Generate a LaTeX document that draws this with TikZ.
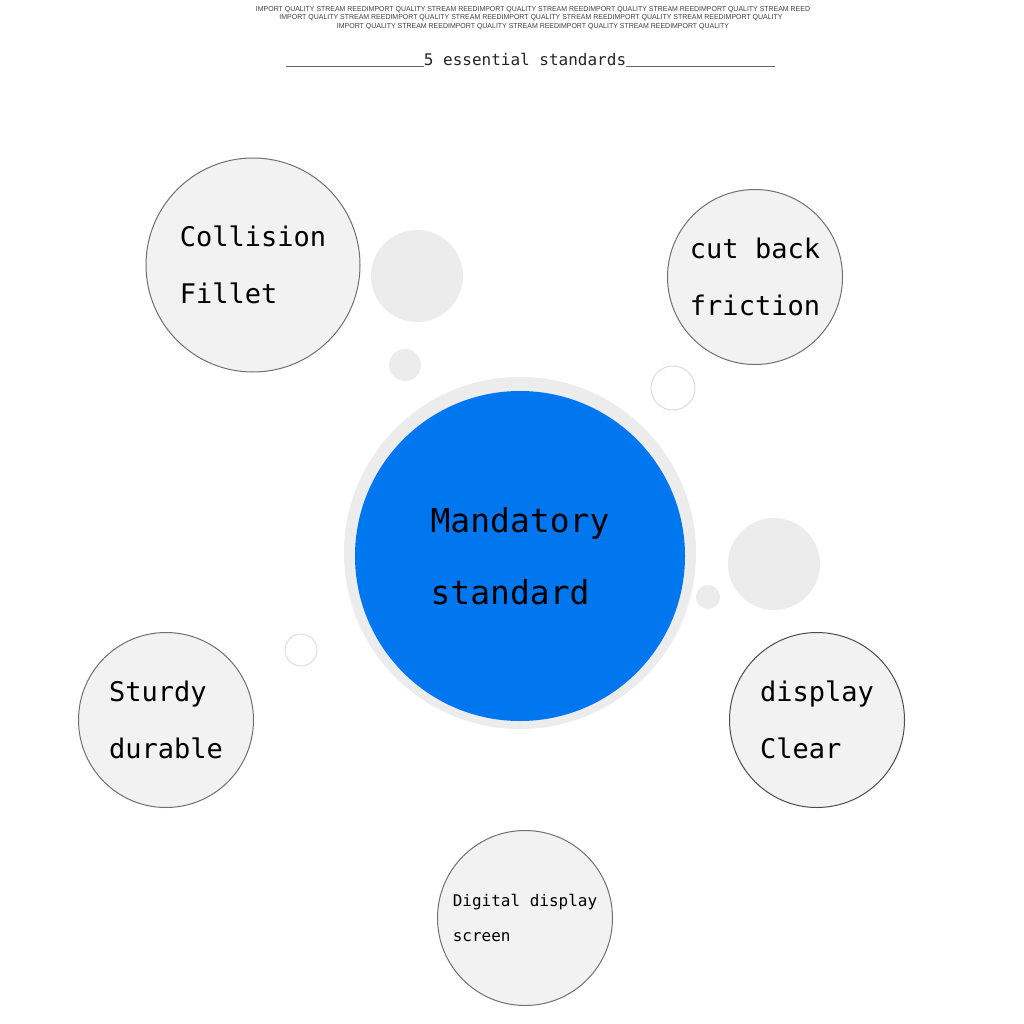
\documentclass[tikz,border=0pt]{standalone}
\usepackage{fontspec}
\usepackage{graphicx}
\usepackage{xcolor}
\setmainfont{DejaVu Sans}
\newfontfamily\monofont{DejaVu Sans Mono}
\newfontfamily\tinyfont{Liberation Sans}
\definecolor{bubblefill}{HTML}{F2F2F2}
\definecolor{bubbleline}{HTML}{707070}
\definecolor{dotfill}{HTML}{ECECEC}
\definecolor{ringline}{HTML}{DDDDDD}
\definecolor{hubblue}{HTML}{0077EE}
\usetikzlibrary{positioning}
\tikzset{
  bubble/.style={draw=bubbleline, line width=1pt, circle, fill=bubblefill,
                 inner sep=0pt, align=left, font=\monofont\fontsize{27}{57}\selectfont},
  dot/.style={circle, fill=dotfill, inner sep=0pt},
  ring/.style={circle, draw=ringline, line width=1pt, fill=white, inner sep=0pt},
  hub/.style={circle, fill=hubblue, inner sep=0pt, align=left,
              font=\monofont\fontsize{33}{72}\selectfont},
  hdr/.style={inner sep=0pt, text=black!75, font=\tinyfont\fontsize{6}{6}\selectfont},
}

\begin{document}
\begin{tikzpicture}[x=1pt, y=-1pt]
  \useasboundingbox[fill=white] (0,0) rectangle (1024,1024);
  % header
  \node[hdr] (hdra) at (533,10) {\resizebox{554pt}{5pt}{IMPORT QUALITY STREAM REEDIMPORT QUALITY STREAM REEDIMPORT QUALITY STREAM REEDIMPORT QUALITY STREAM REEDIMPORT QUALITY STREAM REED}};
  \node[hdr] (hdrb) at (531,18) {\resizebox{503pt}{5pt}{IMPORT QUALITY STREAM REEDIMPORT QUALITY STREAM REEDIMPORT QUALITY STREAM REEDIMPORT QUALITY STREAM REEDIMPORT QUALITY}};
  \node[hdr] (hdrc) at (533,27) {\resizebox{392pt}{5pt}{IMPORT QUALITY STREAM REEDIMPORT QUALITY STREAM REEDIMPORT QUALITY STREAM REEDIMPORT QUALITY}};
  \node[inner sep=0pt, anchor=base, font=\monofont\fontsize{16}{16}\selectfont, text=black!85]
    (title) at (525,66) {5 essential standards};
  \coordinate (lineL) at (286,66);
  \coordinate (lineR) at (775,66);
  \draw[black!60, line width=0.8pt] (lineL) -- (title.base west);
  \draw[black!60, line width=0.8pt] (title.base east) -- (lineR);
  % small decorations
  \node[dot, minimum size=92pt] (dota) at (417,276) {};
  \node[dot, minimum size=32pt] (dotb) at (405,365) {};
  \node[dot, minimum size=92pt] (dotc) at (774,564) {};
  \node[dot, minimum size=24pt] (dotd) at (708,597) {};
  \node[ring, minimum size=44pt] (ringa) at (673,388) {};
  \node[ring, minimum size=32pt] (ringb) at (301,650) {};
  % centre
  \node[dot, minimum size=352pt] (halo) at (520,553) {};
  \node[hub, minimum size=330pt] (mand) at (520,556) {Mandatory\\standard};
  % outer bubbles
  \node[bubble, minimum size=214pt] (fillet) at (253,265) {Collision\\Fillet};
  \node[bubble, minimum size=175pt] (friction) at (755,277) {cut back\\friction};
  \node[bubble, minimum size=175pt] (sturdy) at (166,720) {Sturdy\\durable};
  \node[bubble, draw=black!70, minimum size=175pt] (clear) at (817,720) {display\\Clear};
  \node[bubble, minimum size=175pt, font=\monofont\fontsize{16}{35}\selectfont]
    (screen) at (525,918) {Digital display\\screen};
\end{tikzpicture}
\end{document}
